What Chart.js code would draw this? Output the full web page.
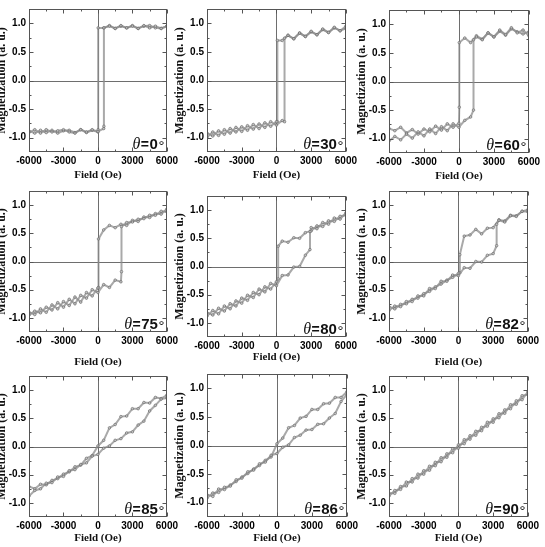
<!DOCTYPE html>
<html>
<head>
<meta charset="utf-8">
<script src="https://cdn.jsdelivr.net/npm/chart.js@4.4.0/dist/chart.umd.min.js"></script>
<style>
  html, body { margin: 0; padding: 0; background: #fff; }
  body { width: 545px; height: 547px; position: relative; overflow: hidden; }
  canvas { position: absolute; }
</style>
</head>
<body>
<script>
// field grid (Oe) shared by every branch
const fieldGrid = [-6000,-5500,-5000,-4500,-4000,-3500,-3000,-2500,-2000,-1500,-1000,-500,0,500,1000,1500,2000,2500,3000,3500,4000,4500,5000,5500,6000];
const xTicks = [-6000, -3000, 0, 3000, 6000];
const yTicks = [-1.0, -0.5, 0.0, 0.5, 1.0];

// jump = [field, M before jump, M after jump]
// theta = 0
const up0 = [-0.91,-0.86,-0.92,-0.86,-0.90,-0.88,-0.86,-0.90,-0.92,-0.86,-0.90,-0.86,-0.89,-0.84,0.95,0.91,0.96,0.92,0.95,0.91,0.96,0.92,0.95,0.91,0.95];
const upJump0 = [520, -0.80, 0.92];
const down0 = [-0.88,-0.92,-0.87,-0.91,-0.87,-0.92,-0.88,-0.87,-0.91,-0.86,-0.91,-0.87,-0.90,0.92,0.96,0.91,0.95,0.92,0.96,0.91,0.95,0.96,0.92,0.91,0.95];
const downJump0 = [20, 0.92, -0.86];

// theta = 30
const up30 = [-0.99,-0.90,-0.96,-0.86,-0.92,-0.82,-0.89,-0.79,-0.85,-0.76,-0.82,-0.72,-0.78,-0.70,0.79,0.73,0.83,0.77,0.86,0.80,0.90,0.84,0.93,0.87,0.95];
const upJump30 = [700, -0.72, 0.74];
const down30 = [-0.92,-0.97,-0.88,-0.94,-0.84,-0.90,-0.81,-0.87,-0.77,-0.84,-0.74,-0.80,-0.72,0.70,0.79,0.73,0.83,0.77,0.85,0.80,0.89,0.84,0.92,0.87,0.91];
const downJump30 = [80, 0.70, -0.72];

// theta = 60
const up60 = [-1.04,-0.96,-1.02,-0.92,-0.99,-0.88,-0.95,-0.83,-0.91,-0.79,-0.86,-0.74,-0.80,-0.68,-0.62,0.78,0.73,0.85,0.78,0.90,0.82,0.94,0.85,0.90,0.80];
const upJump60 = [1250, -0.50, 0.73];
const down60 = [-0.82,-0.86,-0.80,-0.90,-0.84,-0.92,-0.83,-0.88,-0.78,-0.85,-0.74,-0.80,-0.73,0.76,0.68,0.80,0.74,0.85,0.78,0.88,0.81,0.92,0.87,0.83,0.87];
const downJump60 = [30, 0.68, -0.45];

// theta = 75
const up75 = [-0.95,-0.88,-0.91,-0.81,-0.86,-0.73,-0.81,-0.67,-0.75,-0.60,-0.65,-0.50,-0.55,-0.41,-0.46,-0.33,-0.36,0.69,0.70,0.75,0.76,0.82,0.82,0.89,0.88];
const upJump75 = [2050, -0.18, 0.62];
const down75 = [-0.90,-0.94,-0.84,-0.90,-0.77,-0.84,-0.71,-0.78,-0.63,-0.72,-0.55,-0.61,-0.47,0.56,0.64,0.60,0.66,0.64,0.73,0.71,0.79,0.78,0.85,0.84,0.93];
const downJump75 = [50, 0.40, -0.46];

// theta = 80
const up80 = [-0.88,-0.78,-0.84,-0.70,-0.75,-0.61,-0.65,-0.51,-0.55,-0.40,-0.45,-0.30,-0.34,-0.16,-0.15,-0.01,0.00,0.20,0.69,0.67,0.78,0.75,0.86,0.84,0.95];
const upJump80 = [2900, 0.30, 0.62];
const down80 = [-0.82,-0.86,-0.74,-0.79,-0.66,-0.70,-0.56,-0.60,-0.46,-0.50,-0.36,-0.40,-0.27,0.45,0.43,0.51,0.50,0.60,0.63,0.72,0.71,0.81,0.80,0.89,0.91];
const downJump80 = [150, 0.36, -0.22];

// theta = 82
const up82 = [-0.87,-0.79,-0.80,-0.71,-0.71,-0.61,-0.61,-0.48,-0.48,-0.35,-0.35,-0.24,-0.25,-0.11,-0.12,0.00,-0.01,0.11,0.14,0.73,0.70,0.81,0.80,0.89,0.88];
const upJump82 = [3300, 0.28, 0.66];
const down82 = [-0.80,-0.84,-0.76,-0.75,-0.67,-0.65,-0.57,-0.53,-0.45,-0.40,-0.33,-0.28,-0.21,0.45,0.47,0.57,0.49,0.59,0.60,0.74,0.72,0.82,0.81,0.89,0.92];
const downJump82 = [120, 0.12, -0.20];

// theta = 85
const up85 = [-0.88,-0.78,-0.75,-0.65,-0.64,-0.54,-0.53,-0.43,-0.41,-0.32,-0.29,-0.17,-0.14,-0.03,0.01,0.11,0.14,0.24,0.26,0.38,0.45,0.63,0.73,0.84,0.86];
const down85 = [-0.71,-0.75,-0.67,-0.68,-0.60,-0.57,-0.49,-0.45,-0.36,-0.33,-0.21,-0.16,0.01,0.11,0.33,0.39,0.53,0.54,0.67,0.67,0.78,0.77,0.87,0.85,0.91];

// theta = 86
const up86 = [-0.92,-0.83,-0.82,-0.73,-0.71,-0.60,-0.57,-0.46,-0.43,-0.32,-0.29,-0.17,-0.14,-0.03,0.01,0.14,0.18,0.27,0.28,0.37,0.38,0.48,0.56,0.77,0.89];
const down86 = [-0.86,-0.89,-0.76,-0.77,-0.69,-0.63,-0.55,-0.49,-0.41,-0.35,-0.26,-0.20,0.03,0.13,0.31,0.35,0.48,0.51,0.63,0.63,0.73,0.74,0.84,0.84,0.94];

// theta = 90
const up90 = [-0.88,-0.78,-0.76,-0.63,-0.63,-0.49,-0.49,-0.35,-0.34,-0.20,-0.19,-0.04,-0.03,0.12,0.13,0.27,0.28,0.43,0.43,0.58,0.59,0.74,0.75,0.90,0.92];
const down90 = [-0.83,-0.83,-0.71,-0.70,-0.57,-0.56,-0.43,-0.42,-0.28,-0.27,-0.13,-0.11,0.03,0.05,0.19,0.20,0.34,0.36,0.49,0.51,0.65,0.67,0.81,0.83,0.97];

const panels = [
  { angle: 0,  up: up0,  upJump: upJump0,  down: down0,  downJump: downJump0 },
  { angle: 30, up: up30, upJump: upJump30, down: down30, downJump: downJump30 },
  { angle: 60, up: up60, upJump: upJump60, down: down60, downJump: downJump60 },
  { angle: 75, up: up75, upJump: upJump75, down: down75, downJump: downJump75 },
  { angle: 80, up: up80, upJump: upJump80, down: down80, downJump: downJump80 },
  { angle: 82, up: up82, upJump: upJump82, down: down82, downJump: downJump82 },
  { angle: 85, up: up85, upJump: null, down: down85, downJump: null },
  { angle: 86, up: up86, upJump: null, down: down86, downJump: null },
  { angle: 90, up: up90, upJump: null, down: down90, downJump: null }
];

// plot area placement: left, top, width, height, gap to x title
const boxes = [
  [29, 8, 140, 144, 23], [207, 8, 141, 144, 23], [389, 9, 142, 144, 23],
  [29, 190, 140, 142, 30], [207, 195, 141, 142, 20], [389, 190, 141, 142, 30],
  [29, 375, 140, 142, 21], [207, 373, 142, 144, 21], [389, 375, 141, 142, 21]
];

const Y_AXIS_W = 34, PAD_TOP = 8, PAD_RIGHT = 12;

function branch(vals, jump, descending) {
  const pts = fieldGrid.map((h, i) => ({ x: h, y: vals[i] }));
  if (jump) {
    const [h, before, after] = jump;
    const k = fieldGrid.findIndex(g => g > h);
    if (!descending) pts.splice(k, 0, { x: h, y: before }, { x: h, y: after });
    else pts.splice(k, 0, { x: h, y: after }, { x: h, y: before });
  }
  return descending ? pts.reverse() : pts;
}

const mids = arr => arr.slice(1).map((v, i) => (v + arr[i]) / 2);

// frame, inward ticks and zero lines
const framePlugin = {
  id: 'frame',
  beforeDatasetsDraw(chart) {
    const { ctx, chartArea: a, scales: { x, y } } = chart;
    const x0 = Math.round(x.getPixelForValue(0)) + 0.5;
    const y0 = Math.round(y.getPixelForValue(0)) + 0.5;
    ctx.save();
    ctx.strokeStyle = '#6e6e6e';
    ctx.lineWidth = 1;
    ctx.beginPath();
    ctx.moveTo(x0, a.top); ctx.lineTo(x0, a.bottom);
    ctx.moveTo(a.left, y0); ctx.lineTo(a.right, y0);
    ctx.stroke();
    ctx.restore();
  },
  afterDatasetsDraw(chart) {
    const { ctx, chartArea: a, scales: { x, y } } = chart;
    ctx.save();
    ctx.strokeStyle = '#555';
    ctx.lineWidth = 1;
    const L = Math.round(a.left) + 0.5, R = Math.round(a.right) - 0.5;
    const T = Math.round(a.top) + 0.5, B = Math.round(a.bottom) - 0.5;
    ctx.strokeRect(L, T, R - L, B - T);
    ctx.beginPath();
    const tickX = (v, len) => {
      const px = Math.round(x.getPixelForValue(v)) + 0.5;
      ctx.moveTo(px, B); ctx.lineTo(px, B - len);
      ctx.moveTo(px, T); ctx.lineTo(px, T + len);
    };
    const tickY = (v, len) => {
      const py = Math.round(y.getPixelForValue(v)) + 0.5;
      ctx.moveTo(L, py); ctx.lineTo(L + len, py);
      ctx.moveTo(R, py); ctx.lineTo(R - len, py);
    };
    xTicks.forEach(v => tickX(v, 4));
    mids(xTicks).forEach(v => tickX(v, 2));
    yTicks.forEach(v => tickY(v, 4));
    mids(yTicks).forEach(v => tickY(v, 2));
    ctx.stroke();
    ctx.restore();
  }
};

// "θ=NN°" label in the lower right corner
const thetaPlugin = {
  id: 'thetaLabel',
  afterDraw(chart, args, opts) {
    const { ctx, chartArea: a } = chart;
    const parts = [
      { t: 'θ', f: 'italic 16px "Liberation Serif"', dy: 0 },
      { t: '=', f: 'bold 14px "Liberation Sans"', dy: 0 },
      { t: String(opts.value), f: 'bold 15px "Liberation Sans"', dy: 0 },
      { t: '°', f: '15px "Liberation Sans"', dy: 2 }
    ];
    ctx.save();
    ctx.fillStyle = '#111';
    ctx.textBaseline = 'alphabetic';
    let w = 0;
    parts.forEach(p => { ctx.font = p.f; p.w = ctx.measureText(p.t).width; w += p.w + 0.5; });
    let px = a.right - 2 - w;
    const base = a.bottom - 3;
    parts.forEach(p => {
      ctx.font = p.f;
      ctx.fillText(p.t, px, base + p.dy);
      px += p.w + 0.5;
    });
    ctx.restore();
  }
};

const dataStyle = {
  showLine: true,
  borderColor: 'rgba(140,140,140,0.75)',
  borderWidth: 2,
  pointRadius: 1.3,
  pointBorderWidth: 0.8,
  pointBorderColor: 'rgba(100,100,100,0.8)',
  pointBackgroundColor: 'rgba(220,220,220,0.5)'
};

panels.forEach((p, i) => {
  const [left, top, w, h, titleGap] = boxes[i];
  const axisH = titleGap + 7;
  const cv = document.createElement('canvas');
  cv.width = Y_AXIS_W + w + PAD_RIGHT;
  cv.height = PAD_TOP + h + axisH;
  cv.style.left = (left - Y_AXIS_W) + 'px';
  cv.style.top = (top - PAD_TOP) + 'px';
  document.body.appendChild(cv);

  new Chart(cv, {
    type: 'scatter',
    data: {
      datasets: [
        Object.assign({ data: branch(p.up, p.upJump, false) }, dataStyle),
        Object.assign({ data: branch(p.down, p.downJump, true) }, dataStyle)
      ]
    },
    options: {
      responsive: false,
      animation: false,
      layout: { padding: { top: PAD_TOP, right: PAD_RIGHT, left: 0, bottom: 0 } },
      plugins: {
        legend: { display: false },
        tooltip: { enabled: false },
        thetaLabel: { value: p.angle }
      },
      scales: {
        x: {
          type: 'linear',
          min: -6000, max: 6000,
          grid: { display: false, drawTicks: false },
          border: { display: false },
          afterBuildTicks: s => { s.ticks = xTicks.map(v => ({ value: v })); },
          afterFit: s => { s.height = axisH; },
          ticks: {
            maxRotation: 0, autoSkip: false, padding: 3,
            color: '#000',
            font: { family: '"Liberation Sans"', size: 10, weight: 'bold' },
            callback: v => String(v)
          },
          title: {
            display: true, text: 'Field (Oe)', color: '#111',
            padding: 0,
            font: { family: '"Liberation Serif"', size: 11, weight: 'bold' }
          }
        },
        y: {
          type: 'linear',
          min: -1.25, max: 1.25,
          grid: { display: false, drawTicks: false },
          border: { display: false },
          afterBuildTicks: s => { s.ticks = yTicks.map(v => ({ value: v })); },
          afterFit: s => { s.width = Y_AXIS_W; },
          ticks: {
            padding: 3, color: '#000',
            font: { family: '"Liberation Sans"', size: 10, weight: 'bold' },
            callback: v => v.toFixed(1)
          },
          title: {
            display: true, text: 'Magnetization (a. u.)', color: '#111',
            padding: 0,
            font: { family: '"Liberation Serif"', size: 12, weight: 'bold' }
          }
        }
      }
    },
    plugins: [framePlugin, thetaPlugin]
  });
});
</script>
</body>
</html>
